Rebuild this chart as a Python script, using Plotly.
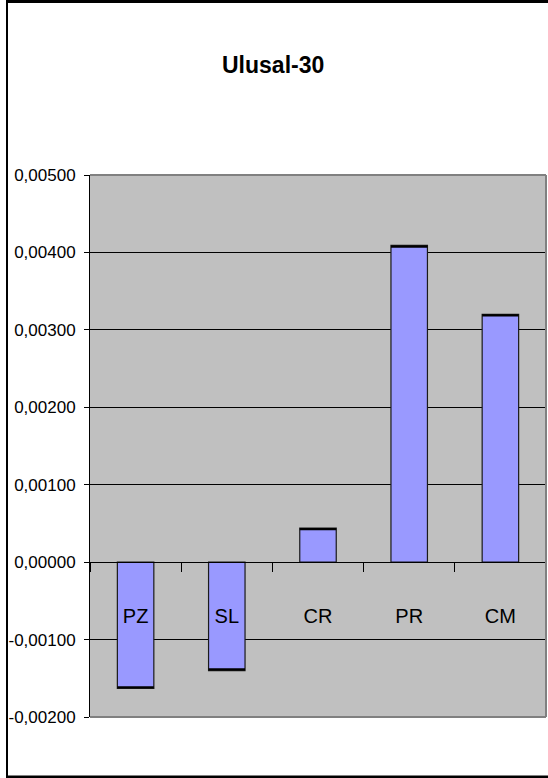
import plotly.graph_objects as go

# Ulusal-30 series
categories = ["PZ", "SL", "CR", "PR", "CM"]
values = [-0.00163, -0.00140, 0.00044, 0.00409, 0.00320]
y_ticks = [-0.002, -0.001, 0.0, 0.001, 0.002, 0.003, 0.004, 0.005]
y_tick_labels = [f"{v:.5f}".replace(".", ",") for v in y_ticks]
title_text = "Ulusal-30"

W, H = 548, 778
L, R, T, B = 90, 2, 175, 61
plot_w = W - L - R
plot_h = H - T - B

y_min, y_max = y_ticks[0], y_ticks[-1]
zero_pos = (0 - y_min) / (y_max - y_min)

FONT = "Liberation Sans, Arial, sans-serif"


def px_x(px):
    return (px - L) / plot_w


def px_y(py):
    return (H - B - py) / plot_h


# thickness (in data units) of the dark edge drawn at each bar's value end
edge = 2.2 * (y_max - y_min) / plot_h
edge_base = [v - edge if v >= 0 else v for v in values]

fig = go.Figure()
fig.add_trace(go.Bar(
    x=categories,
    y=values,
    width=0.4,
    marker=dict(color="#9999FF", line=dict(color="#1a1a1a", width=1.2)),
    showlegend=False,
    hoverinfo="x+y",
))
fig.add_trace(go.Bar(
    x=categories,
    y=[edge] * len(values),
    base=edge_base,
    width=0.4,
    marker=dict(color="#000000", line=dict(width=0)),
    showlegend=False,
    hoverinfo="skip",
))

shapes = [
    # plot area frame (top, right, bottom) in Excel grey
    dict(type="line", xref="paper", yref="paper", x0=0, x1=1, y0=1, y1=1,
         line=dict(color="#808080", width=2), layer="above"),
    dict(type="line", xref="paper", yref="paper", x0=1, x1=1, y0=0, y1=1,
         line=dict(color="#808080", width=2), layer="above"),
    dict(type="line", xref="paper", yref="paper", x0=0, x1=1, y0=0, y1=0,
         line=dict(color="#808080", width=2), layer="above"),
    # chart area border
    dict(type="line", xref="paper", yref="paper", x0=px_x(7), x1=px_x(7),
         y0=px_y(1), y1=px_y(777), line=dict(color="#000000", width=2), layer="above"),
    dict(type="line", xref="paper", yref="paper", x0=px_x(6), x1=px_x(560),
         y0=px_y(1.5), y1=px_y(1.5), line=dict(color="#000000", width=3), layer="above"),
    dict(type="line", xref="paper", yref="paper", x0=px_x(6), x1=px_x(560),
         y0=px_y(777), y1=px_y(777), line=dict(color="#000000", width=3), layer="above"),
]

fig.update_layout(
    width=W, height=H,
    margin=dict(l=L, r=R, t=T, b=B, autoexpand=False),
    paper_bgcolor="#FFFFFF",
    plot_bgcolor="#C0C0C0",
    separators=",.",
    barmode="overlay",
    font=dict(family=FONT, color="#000000"),
    annotations=[dict(
        text=f"<b>{title_text}</b>", xref="paper", yref="paper",
        x=px_x(273), y=px_y(65), xanchor="center", yanchor="middle",
        showarrow=False, font=dict(family=FONT, size=23, color="#000000"),
    )],
    shapes=shapes,
    xaxis=dict(
        type="category",
        anchor="free", position=zero_pos,
        showline=True, linecolor="#000000", linewidth=1,
        ticks="outside", tickson="boundaries", ticklen=9, tickcolor="#000000", tickwidth=1,
        showgrid=False, zeroline=False,
        tickfont=dict(family=FONT, size=20, color="#000000"),
        ticklabelstandoff=36,
        fixedrange=True,
    ),
    yaxis=dict(
        range=[y_min, y_max],
        tickvals=y_ticks, ticktext=y_tick_labels,
        showline=True, linecolor="#000000", linewidth=1,
        ticks="outside", ticklen=5, tickcolor="#000000",
        showgrid=True, gridcolor="#000000", gridwidth=1,
        zeroline=False,
        tickfont=dict(family=FONT, size=17, color="#000000"),
        ticklabelstandoff=5,
        fixedrange=True,
    ),
)

fig.write_html("out.html")
